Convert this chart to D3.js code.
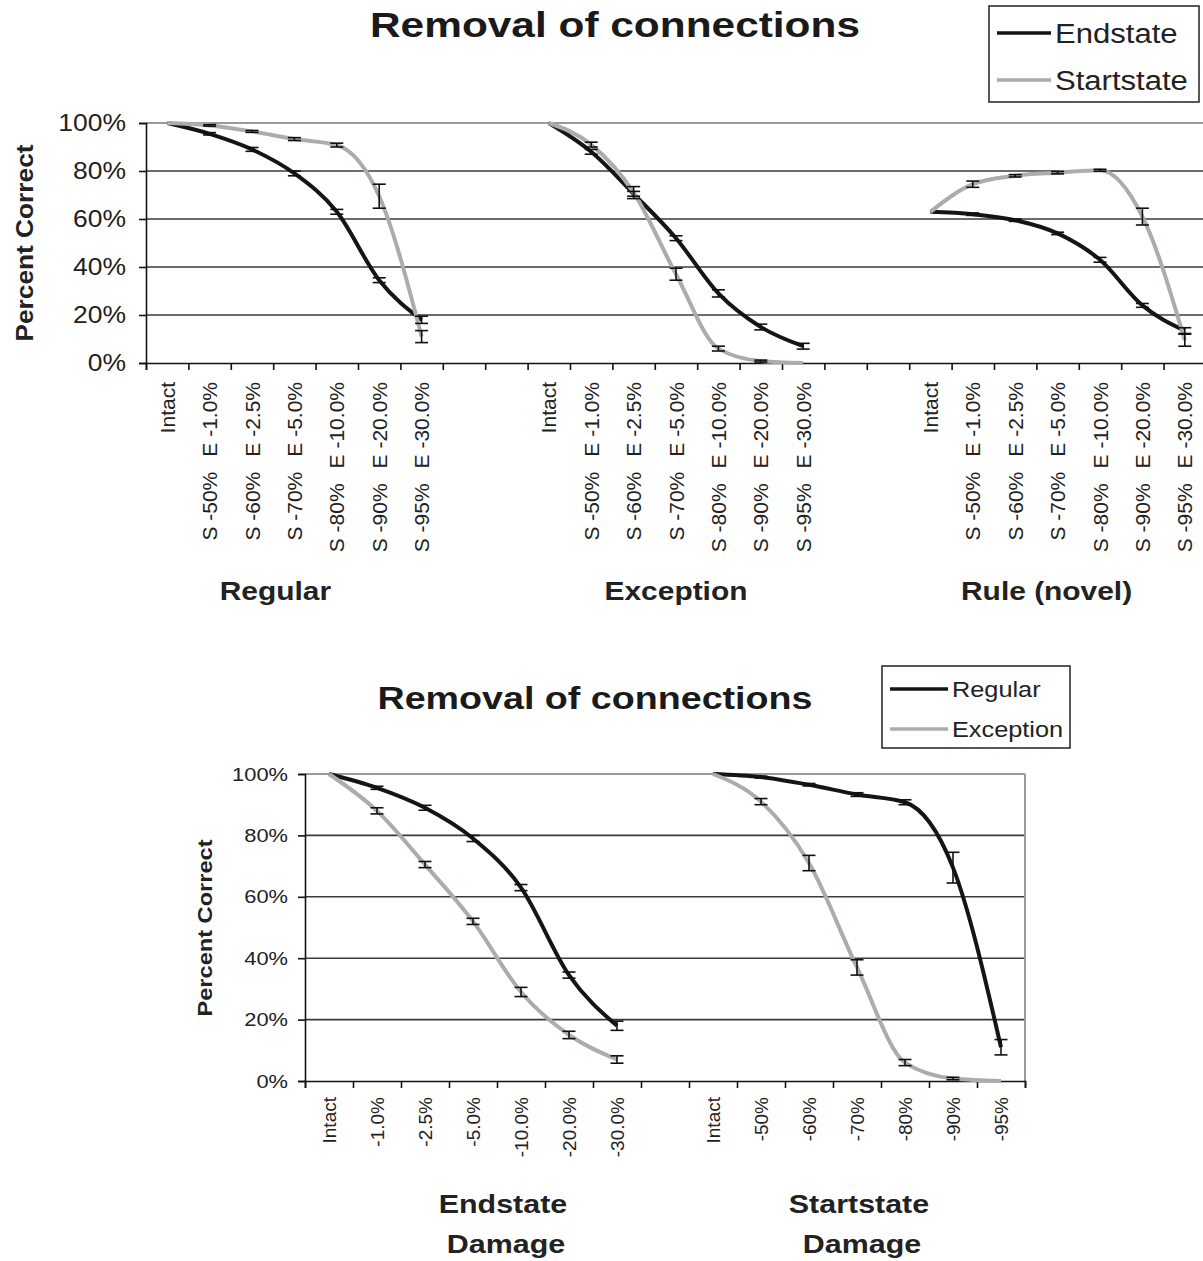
<!DOCTYPE html>
<html>
<head>
<meta charset="utf-8">
<script src="https://cdn.jsdelivr.net/npm/d3@7"></script>
<style>
  body { margin: 0; background: #fff; }
  svg { display: block; font-family: "Liberation Sans", Arial, sans-serif; }
</style>
</head>
<body>
<svg id="chart" width="1203" height="1261"></svg>
<script>
// Removal of connections: two Excel-style line charts with error bars

var groups = ["Regular", "Exception", "Rule (novel)"];
var endLabels = ["Intact", "-1.0%", "-2.5%", "-5.0%", "-10.0%", "-20.0%", "-30.0%"];
var startLabels = ["Intact", "-50%", "-60%", "-70%", "-80%", "-90%", "-95%"];
var yTicks = [0, 20, 40, 60, 80, 100];

// percent correct, per group, Endstate (E) and Startstate (S) damage
var regularEnd = [100, 95.5, 89, 79, 63, 34.5, 18];
var regularEndErr = [0, 0.5, 0.8, 1, 1, 1, 1.5];
var regularStart = [100, 99, 96.5, 93.3, 90.8, 69.5, 11];
var regularStartErr = [0, 0.3, 0.4, 0.6, 0.8, 5, 2.5];
var exceptionEnd = [100, 88, 70.5, 52, 29, 15, 7];
var exceptionEndErr = [0, 1, 1, 1, 1.5, 1.2, 1.2];
var exceptionStart = [100, 91, 71, 37, 6, 0.8, 0];
var exceptionStartErr = [0, 1, 2.5, 2.5, 1, 0.4, 0];
var ruleEnd = [63, 62, 59.5, 54, 43, 24, 13.5];
var ruleEndErr = [0, 0.5, 0.5, 0.5, 1, 0.8, 1.2];
var ruleStart = [63, 74.5, 78, 79.3, 80.3, 61, 9.5];
var ruleStartErr = [0, 1.3, 0.5, 0.5, 0.4, 3.5, 2.5];

var BLACK = "#151515", GRAY = "#a8adb2";
var svg = d3.select("#chart");

// stretch text horizontally a bit, the original picture is widened
function stretch(sel, k) {
	sel.each(function() {
		var L = this.getComputedTextLength();
		this.setAttribute("textLength", L * k);
		this.setAttribute("lengthAdjust", "spacingAndGlyphs");
	});
}

function legend(g, x, y, w, h, items, fs) {
	g.append("rect").attr("x", x).attr("y", y).attr("width", w).attr("height", h)
		.attr("fill", "#fff").attr("stroke", "#222").attr("stroke-width", 1.5);
	items.forEach(function(it) {
		var cy = it.y;
		g.append("line").attr("x1", x + 8).attr("x2", x + 8 + it.len).attr("y1", cy).attr("y2", cy)
			.attr("stroke", it.color).attr("stroke-width", 3.5);
		g.append("text").attr("x", x + 8 + it.len + 4).attr("y", cy).attr("dy", "0.36em")
			.attr("font-size", fs).attr("fill", "#222").text(it.name)
			.call(stretch, 1.15);
	});
}

function drawSeries(g, pts, color) {
	var line = d3.line().x(d => d.x).y(d => d.y).curve(d3.curveMonotoneX);
	g.append("path").attr("d", line(pts)).attr("fill", "none")
		.attr("stroke", color).attr("stroke-width", 4).attr("stroke-linejoin", "round");
}

function drawErrors(g, pts, vals, errs, y) {
	pts.forEach(function(p, i) {
		if (errs[i] < 0.2) return;
		var y1 = y(vals[i] + errs[i]), y2 = y(vals[i] - errs[i]);
		g.append("line").attr("x1", p.x).attr("x2", p.x).attr("y1", y1).attr("y2", y2)
			.attr("stroke", "#111").attr("stroke-width", 1.6);
		[y1, y2].forEach(function(yy) {
			g.append("line").attr("x1", p.x - 6.5).attr("x2", p.x + 6.5).attr("y1", yy).attr("y2", yy)
				.attr("stroke", "#111").attr("stroke-width", 1.6);
		});
	});
}

function frame(g, x0, x1, y, nCats, tickFs, pad) {
	// gridlines
	g.selectAll("line.grid").data(yTicks.filter(v => v > 0)).join("line")
		.attr("class", "grid")
		.attr("x1", x0).attr("x2", x1)
		.attr("y1", v => y(v)).attr("y2", v => y(v))
		.attr("stroke", v => v == 100 ? "#9a9a9a" : "#3a3a3a")
		.attr("stroke-width", v => v == 100 ? 2 : 1.6);
	g.append("line").attr("x1", x1).attr("x2", x1).attr("y1", y(100)).attr("y2", y(0))
		.attr("stroke", "#9a9a9a").attr("stroke-width", 2);

	var yAxis = g.append("g").attr("transform", "translate(" + x0 + ",0)")
		.call(d3.axisLeft(y).tickValues(yTicks).tickFormat(d => d + "%").tickSize(7).tickPadding(pad));
	yAxis.select(".domain").attr("stroke", "#111").attr("stroke-width", 1.6);
	yAxis.selectAll(".tick line").attr("stroke", "#111").attr("stroke-width", 1.6);
	yAxis.selectAll("text").attr("font-size", tickFs).attr("fill", "#222")
		.attr("font-family", "Liberation Sans, Arial, sans-serif").call(stretch, 1.15);

	var xs = d3.scaleLinear([0, nCats], [x0, x1]);
	var xAxis = g.append("g").attr("transform", "translate(0," + y(0) + ")")
		.call(d3.axisBottom(xs).ticks(nCats).tickFormat("").tickSize(7));
	xAxis.select(".domain").attr("stroke", "#111").attr("stroke-width", 1.6);
	xAxis.selectAll(".tick line").attr("stroke", "#111").attr("stroke-width", 1.6);
}

// ---------------- top chart ----------------
(function() {
	var g = svg.append("g");
	var keys = [];
	groups.forEach(function(gr, i) {
		for (var j = 0; j < 7; j++) keys.push(gr + "|" + j);
		if (i < groups.length - 1) { keys.push("gap" + i + "a"); keys.push("gap" + i + "b"); }
	});
	var x = d3.scaleBand().domain(keys).range([146, 1206]);
	var y = d3.scaleLinear([0, 100], [363, 123]);
	var cx = k => x(k) + x.bandwidth() / 2;

	frame(g, 146, 1206, y, keys.length, 23, 13);

	var data = {
		"Regular": [regularEnd, regularEndErr, regularStart, regularStartErr],
		"Exception": [exceptionEnd, exceptionEndErr, exceptionStart, exceptionStartErr],
		"Rule (novel)": [ruleEnd, ruleEndErr, ruleStart, ruleStartErr]
	};
	var errLayer = [];
	groups.forEach(function(gr) {
		var d = data[gr];
		var ptsE = d[0].map((v, j) => ({ x: cx(gr + "|" + j), y: y(v) }));
		var ptsS = d[2].map((v, j) => ({ x: cx(gr + "|" + j), y: y(v) }));
		drawSeries(g, ptsE, BLACK);
		drawSeries(g, ptsS, GRAY);
		errLayer.push([ptsE, d[0], d[1]], [ptsS, d[2], d[3]]);
	});
	errLayer.forEach(e => drawErrors(g, e[0], e[1], e[2], y));

	// category labels
	var shift = [-19, 0, -11];
	groups.forEach(function(gr, i) {
		for (var j = 0; j < 7; j++) {
			var t = g.append("text")
				.attr("transform", "translate(" + cx(gr + "|" + j) + ",382) rotate(-90)")
				.attr("text-anchor", "end").attr("dy", "0.36em")
				.attr("font-size", 21).attr("fill", "#222");
			if (j == 0) t.text("Intact");
			else {
				t.append("tspan").text("S " + startLabels[j]);
				t.append("tspan").attr("dx", 15).text("E " + endLabels[j]);
			}
		}
		var mid = (cx(gr + "|0") + cx(gr + "|6")) / 2;
		g.append("text").attr("x", mid + shift[i]).attr("y", 600).attr("text-anchor", "middle")
			.attr("font-size", 26).attr("font-weight", "bold").attr("fill", "#222").text(gr)
			.call(stretch, 1.15);
	});

	g.append("text").attr("transform", "translate(33,243) rotate(-90)").attr("text-anchor", "middle")
		.attr("font-size", 23).attr("font-weight", "bold").attr("fill", "#222").text("Percent Correct")
		.attr("textLength", 197).attr("lengthAdjust", "spacingAndGlyphs");

	g.append("text").attr("x", 615).attr("y", 37).attr("text-anchor", "middle")
		.attr("font-size", 35).attr("font-weight", "bold").attr("fill", "#1a1a1a").text("Removal of connections")
		.attr("textLength", 490).attr("lengthAdjust", "spacingAndGlyphs");

	legend(g, 989, 6, 210, 96, [
		{ name: "Endstate", color: BLACK, y: 33, len: 54 },
		{ name: "Startstate", color: GRAY, y: 80, len: 54 }
	], 27);
})();

// ---------------- bottom chart ----------------
(function() {
	var g = svg.append("g");
	var keys = [];
	for (var j = 0; j < 7; j++) keys.push("E|" + j);
	keys.push("gap");
	for (var j = 0; j < 7; j++) keys.push("S|" + j);
	var x = d3.scaleBand().domain(keys).range([305, 1025]);
	var y = d3.scaleLinear([0, 100], [1081, 774]);
	var cx = k => x(k) + x.bandwidth() / 2;

	frame(g, 305, 1025, y, keys.length, 19, 10);

	var sets = [
		["E", regularEnd, regularEndErr, BLACK], ["E", exceptionEnd, exceptionEndErr, GRAY],
		["S", regularStart, regularStartErr, BLACK], ["S", exceptionStart, exceptionStartErr, GRAY]
	];
	var errLayer = [];
	sets.forEach(function(s) {
		var pts = s[1].map((v, j) => ({ x: cx(s[0] + "|" + j), y: y(v) }));
		drawSeries(g, pts, s[3]);
		errLayer.push([pts, s[1], s[2]]);
	});
	errLayer.forEach(e => drawErrors(g, e[0], e[1], e[2], y));

	[["E", endLabels], ["S", startLabels]].forEach(function(p) {
		for (var j = 0; j < 7; j++) {
			g.append("text")
				.attr("transform", "translate(" + cx(p[0] + "|" + j) + ",1097) rotate(-90)")
				.attr("text-anchor", "end").attr("dy", "0.36em")
				.attr("font-size", 19).attr("fill", "#222").text(p[1][j]);
		}
	});

	[[503, "Endstate"], [859, "Startstate"]].forEach(function(p) {
		g.append("text").attr("x", p[0]).attr("y", 1213).attr("text-anchor", "middle")
			.attr("font-size", 26).attr("font-weight", "bold").attr("fill", "#222").text(p[1])
			.call(stretch, 1.17);
		g.append("text").attr("x", p[0] + 3).attr("y", 1253).attr("text-anchor", "middle")
			.attr("font-size", 26).attr("font-weight", "bold").attr("fill", "#222").text("Damage")
			.call(stretch, 1.17);
	});

	g.append("text").attr("transform", "translate(212,928) rotate(-90)").attr("text-anchor", "middle")
		.attr("font-size", 20).attr("font-weight", "bold").attr("fill", "#222").text("Percent Correct")
		.attr("textLength", 177).attr("lengthAdjust", "spacingAndGlyphs");

	g.append("text").attr("x", 595).attr("y", 709).attr("text-anchor", "middle")
		.attr("font-size", 31).attr("font-weight", "bold").attr("fill", "#1a1a1a").text("Removal of connections")
		.attr("textLength", 435).attr("lengthAdjust", "spacingAndGlyphs");

	legend(g, 882, 666, 188, 82, [
		{ name: "Regular", color: BLACK, y: 689, len: 58 },
		{ name: "Exception", color: GRAY, y: 729, len: 58 }
	], 22);
})();
</script>
</body>
</html>
